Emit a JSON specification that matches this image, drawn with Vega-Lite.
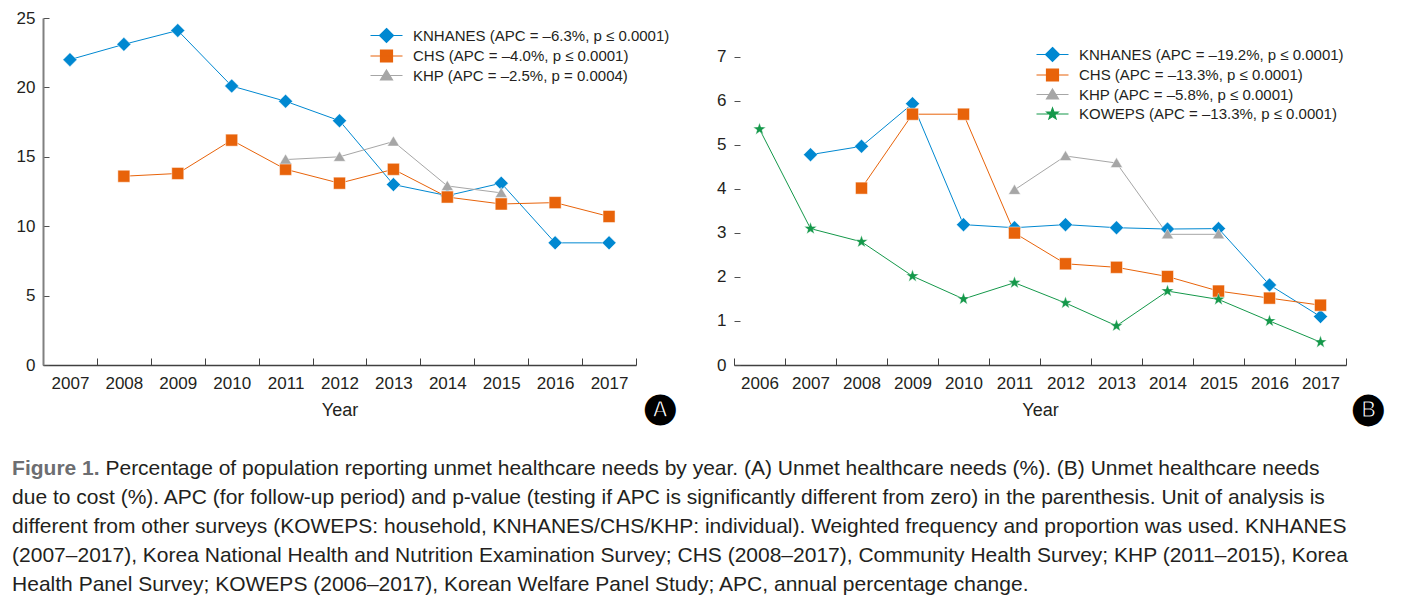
{
  "$schema": "https://vega.github.io/schema/vega-lite/v6.json",
  "background": "white",
  "padding": {"left": 12, "top": 9, "right": 5, "bottom": 5},
  "datasets": {
    "a": [
      {"series": "KNHANES", "year": "2007", "value": 22.0},
      {"series": "KNHANES", "year": "2008", "value": 23.1},
      {"series": "KNHANES", "year": "2009", "value": 24.1},
      {"series": "KNHANES", "year": "2010", "value": 20.1},
      {"series": "KNHANES", "year": "2011", "value": 19.0},
      {"series": "KNHANES", "year": "2012", "value": 17.6},
      {"series": "KNHANES", "year": "2013", "value": 13.0},
      {"series": "KNHANES", "year": "2014", "value": 12.2},
      {"series": "KNHANES", "year": "2015", "value": 13.1},
      {"series": "KNHANES", "year": "2016", "value": 8.8},
      {"series": "KNHANES", "year": "2017", "value": 8.8},
      {"series": "CHS", "year": "2008", "value": 13.6},
      {"series": "CHS", "year": "2009", "value": 13.8},
      {"series": "CHS", "year": "2010", "value": 16.2},
      {"series": "CHS", "year": "2011", "value": 14.1},
      {"series": "CHS", "year": "2012", "value": 13.1},
      {"series": "CHS", "year": "2013", "value": 14.1},
      {"series": "CHS", "year": "2014", "value": 12.1},
      {"series": "CHS", "year": "2015", "value": 11.6},
      {"series": "CHS", "year": "2016", "value": 11.7},
      {"series": "CHS", "year": "2017", "value": 10.7},
      {"series": "KHP", "year": "2011", "value": 14.8},
      {"series": "KHP", "year": "2012", "value": 15.0},
      {"series": "KHP", "year": "2013", "value": 16.1},
      {"series": "KHP", "year": "2014", "value": 12.9},
      {"series": "KHP", "year": "2015", "value": 12.4}
    ],
    "b": [
      {"series": "KNHANES", "year": "2007", "value": 4.78},
      {"series": "KNHANES", "year": "2008", "value": 4.97},
      {"series": "KNHANES", "year": "2009", "value": 5.94},
      {"series": "KNHANES", "year": "2010", "value": 3.19},
      {"series": "KNHANES", "year": "2011", "value": 3.12},
      {"series": "KNHANES", "year": "2012", "value": 3.19},
      {"series": "KNHANES", "year": "2013", "value": 3.12},
      {"series": "KNHANES", "year": "2014", "value": 3.09},
      {"series": "KNHANES", "year": "2015", "value": 3.1},
      {"series": "KNHANES", "year": "2016", "value": 1.82},
      {"series": "KNHANES", "year": "2017", "value": 1.1},
      {"series": "CHS", "year": "2008", "value": 4.02},
      {"series": "CHS", "year": "2009", "value": 5.7},
      {"series": "CHS", "year": "2010", "value": 5.7},
      {"series": "CHS", "year": "2011", "value": 3.0},
      {"series": "CHS", "year": "2012", "value": 2.3},
      {"series": "CHS", "year": "2013", "value": 2.22},
      {"series": "CHS", "year": "2014", "value": 2.01},
      {"series": "CHS", "year": "2015", "value": 1.68},
      {"series": "CHS", "year": "2016", "value": 1.52},
      {"series": "CHS", "year": "2017", "value": 1.36},
      {"series": "KHP", "year": "2011", "value": 3.98},
      {"series": "KHP", "year": "2012", "value": 4.75},
      {"series": "KHP", "year": "2013", "value": 4.59},
      {"series": "KHP", "year": "2014", "value": 2.97},
      {"series": "KHP", "year": "2015", "value": 2.97},
      {"series": "KOWEPS", "year": "2006", "value": 5.36},
      {"series": "KOWEPS", "year": "2007", "value": 3.1},
      {"series": "KOWEPS", "year": "2008", "value": 2.8},
      {"series": "KOWEPS", "year": "2009", "value": 2.02},
      {"series": "KOWEPS", "year": "2010", "value": 1.5},
      {"series": "KOWEPS", "year": "2011", "value": 1.87},
      {"series": "KOWEPS", "year": "2012", "value": 1.41},
      {"series": "KOWEPS", "year": "2013", "value": 0.89},
      {"series": "KOWEPS", "year": "2014", "value": 1.68},
      {"series": "KOWEPS", "year": "2015", "value": 1.49},
      {"series": "KOWEPS", "year": "2016", "value": 1.0},
      {"series": "KOWEPS", "year": "2017", "value": 0.52}
    ]
  },
  "config": {
    "font": "Liberation Sans",
    "view": {"stroke": null},
    "axis": {
      "grid": false,
      "labelFont": "Liberation Sans",
      "labelFontSize": 17,
      "labelColor": "#231f20",
      "titleFont": "Liberation Sans",
      "titleFontSize": 18,
      "titleFontWeight": "normal",
      "titleColor": "#231f20"
    },
    "axisX": {"domainColor": "#404040", "domainWidth": 1.5, "tickColor": "#404040", "tickWidth": 1, "tickSize": -7, "labelPadding": 17, "titlePadding": 10, "labelAngle": 0},
    "axisY": {"domainColor": "#808080", "domainWidth": 2, "tickColor": "#505050", "tickWidth": 1, "tickSize": -6, "labelPadding": 14},
    "legend": {
      "labelFont": "Liberation Sans",
      "labelFontSize": 15,
      "labelColor": "#231f20",
      "padding": 0,
      "symbolSize": 4,
      "labelOffset": 19,
      "rowPadding": 2.5,
      "labelLimit": 500
    }
  },
  "title": {
    "text": "Figure 1.",
    "subtitle": [
      "\u200b\u00a0\u00a0\u00a0\u00a0\u00a0\u00a0\u00a0\u00a0\u00a0\u00a0\u00a0\u00a0\u00a0\u00a0\u00a0\u00a0Percentage of population reporting unmet healthcare needs by year. (A) Unmet healthcare needs (%). (B) Unmet healthcare needs",
      "due to cost (%). APC (for follow-up period) and p-value (testing if APC is significantly different from zero) in the parenthesis. Unit of analysis is",
      "different from other surveys (KOWEPS: household, KNHANES/CHS/KHP: individual). Weighted frequency and proportion was used. KNHANES",
      "(2007–2017), Korea National Health and Nutrition Examination Survey; CHS (2008–2017), Community Health Survey; KHP (2011–2015), Korea",
      "Health Panel Survey; KOWEPS (2006–2017), Korean Welfare Panel Study; APC, annual percentage change."
    ],
    "orient": "bottom",
    "anchor": "start",
    "frame": "bounds",
    "offset": 35,
    "dx": -4,
    "font": "Liberation Sans",
    "fontSize": 21,
    "fontWeight": "bold",
    "color": "#6d6e71",
    "subtitleFont": "Liberation Sans",
    "subtitleFontSize": 21,
    "subtitleColor": "#231f20",
    "subtitleLineHeight": 29,
    "subtitlePadding": -21
  },
  "resolve": {"scale": {"color": "independent", "x": "independent", "y": "independent"}, "legend": {"color": "independent"}},
  "spacing": 40,
  "hconcat": [
    {
      "width": 593,
      "height": 347,
      "data": {"name": "a"},
      "title": {"text": "🅐", "orient": "bottom", "anchor": "end", "frame": "group", "font": "DejaVu Sans", "fontSize": 30, "fontWeight": "bold", "color": "#000000", "dx": 40, "offset": -26},
      "encoding": {
        "x": {"field": "year", "type": "ordinal", "scale": {"type": "band", "paddingInner": 0, "paddingOuter": 0}, "axis": {"title": "Year", "tickBand": "extent"}},
        "y": {"field": "value", "type": "quantitative", "scale": {"domain": [0, 25], "nice": false}, "axis": {"title": null, "values": [0, 5, 10, 15, 20, 25], "tickSize": -6, "labelPadding": 14}},
        "color": {
          "field": "series", "type": "nominal",
          "scale": {"domain": ["KNHANES", "CHS", "KHP"], "range": ["#0088d1", "#e8630a", "#a6a6a6"]},
          "legend": {
            "orient": "none", "legendX": 336, "legendY": 10, "title": null,
            "labelExpr": "datum.value == 'KNHANES' ? 'KNHANES (APC = –6.3%, p ≤ 0.0001)' : datum.value == 'CHS' ? 'CHS (APC = –4.0%, p ≤ 0.0001)' : 'KHP (APC = –2.5%, p = 0.0004)'",
            "encode": {"symbols": {"update": {
              "shape": {"signal": "datum.value == 'KNHANES' ? 'M-16,0H16M0,-7L7,0L0,7L-7,0Z' : datum.value == 'CHS' ? 'M-16,0H16M-6,-6H6V6H-6Z' : 'M-16,0H16M0,-5.5L6,4.5L-6,4.5Z'"},
              "strokeWidth": {"value": 1.2}
            }}}
          }
        }
      },
      "layer": [
        {"mark": {"type": "line", "strokeWidth": 1}},
        {
          "transform": [{"filter": "datum.series == 'KNHANES'"}],
          "mark": {"type": "point", "filled": true, "opacity": 1, "size": 4, "shape": "M0,-7L7,0L0,7L-7,0Z", "stroke": "#ffffff", "strokeWidth": 0.8, "strokeOpacity": 0.6}
        },
        {
          "transform": [{"filter": "datum.series == 'CHS'"}],
          "mark": {"type": "point", "filled": true, "opacity": 1, "size": 4, "shape": "M-6,-6H6V6H-6Z", "stroke": "#ffffff", "strokeWidth": 0.8, "strokeOpacity": 0.6}
        },
        {
          "transform": [{"filter": "datum.series == 'KHP'"}],
          "mark": {"type": "point", "filled": true, "opacity": 1, "size": 4, "shape": "M0,-5.5L6,4.5L-6,4.5Z", "stroke": "#ffffff", "strokeWidth": 0.8, "strokeOpacity": 0.6}
        }
      ]
    },
    {
      "width": 612,
      "height": 347,
      "data": {"name": "b"},
      "title": {"text": "🅑", "orient": "bottom", "anchor": "end", "frame": "group", "font": "DejaVu Sans", "fontSize": 30, "fontWeight": "bold", "color": "#000000", "dx": 38, "offset": -26},
      "encoding": {
        "x": {"field": "year", "type": "ordinal", "scale": {"type": "band", "paddingInner": 0, "paddingOuter": 0}, "axis": {"title": "Year", "tickBand": "extent"}},
        "y": {"field": "value", "type": "quantitative", "scale": {"domain": [0, 7.886], "nice": false}, "axis": {"title": null, "values": [0, 1, 2, 3, 4, 5, 6, 7], "domain": true, "domainOpacity": 0, "tickSize": -6, "labelPadding": 14}},
        "color": {
          "field": "series", "type": "nominal",
          "scale": {"domain": ["KNHANES", "CHS", "KHP", "KOWEPS"], "range": ["#0088d1", "#e8630a", "#a6a6a6", "#14984a"]},
          "legend": {
            "orient": "none", "legendX": 311, "legendY": 29, "title": null,
            "labelExpr": "datum.value == 'KNHANES' ? 'KNHANES (APC = –19.2%, p ≤ 0.0001)' : datum.value == 'CHS' ? 'CHS (APC = –13.3%, p ≤ 0.0001)' : datum.value == 'KHP' ? 'KHP (APC = –5.8%, p ≤ 0.0001)' : 'KOWEPS (APC = –13.3%, p ≤ 0.0001)'",
            "encode": {"symbols": {"update": {
              "shape": {"signal": "datum.value == 'KNHANES' ? 'M-16,0H16M0,-7L7,0L0,7L-7,0Z' : datum.value == 'CHS' ? 'M-16,0H16M-6,-6H6V6H-6Z' : datum.value == 'KHP' ? 'M-16,0H16M0,-5.5L6,4.5L-6,4.5Z' : 'M-16,0H16M0,-6L1.41,-1.94L5.71,-1.85L2.28,0.74L3.53,4.85L0,2.4L-3.53,4.85L-2.28,0.74L-5.71,-1.85L-1.41,-1.94Z'"},
              "strokeWidth": {"value": 1.2}
            }}}
          }
        }
      },
      "layer": [
        {
          "data": {"values": [{"axis": "y"}]},
          "mark": {"type": "rule", "strokeWidth": 2},
          "encoding": {
            "x": {"datum": "2006", "bandPosition": 0},
            "y": {"datum": 0},
            "y2": {"datum": 7},
            "color": {"value": "#808080"}
          }
        },
        {"mark": {"type": "line", "strokeWidth": 1}},
        {
          "transform": [{"filter": "datum.series == 'KNHANES'"}],
          "mark": {"type": "point", "filled": true, "opacity": 1, "size": 4, "shape": "M0,-7L7,0L0,7L-7,0Z", "stroke": "#ffffff", "strokeWidth": 0.8, "strokeOpacity": 0.6}
        },
        {
          "transform": [{"filter": "datum.series == 'CHS'"}],
          "mark": {"type": "point", "filled": true, "opacity": 1, "size": 4, "shape": "M-6,-6H6V6H-6Z", "stroke": "#ffffff", "strokeWidth": 0.8, "strokeOpacity": 0.6}
        },
        {
          "transform": [{"filter": "datum.series == 'KHP'"}],
          "mark": {"type": "point", "filled": true, "opacity": 1, "size": 4, "shape": "M0,-5.5L6,4.5L-6,4.5Z", "stroke": "#ffffff", "strokeWidth": 0.8, "strokeOpacity": 0.6}
        },
        {
          "transform": [{"filter": "datum.series == 'KOWEPS'"}],
          "mark": {"type": "point", "filled": true, "opacity": 1, "size": 4, "shape": "M0,-6.5L1.53,-2.1L6.18,-2.01L2.47,0.8L3.82,5.26L0,2.6L-3.82,5.26L-2.47,0.8L-6.18,-2.01L-1.53,-2.1Z", "stroke": "#ffffff", "strokeWidth": 0.6, "strokeOpacity": 0.6}
        }
      ]
    }
  ]
}
